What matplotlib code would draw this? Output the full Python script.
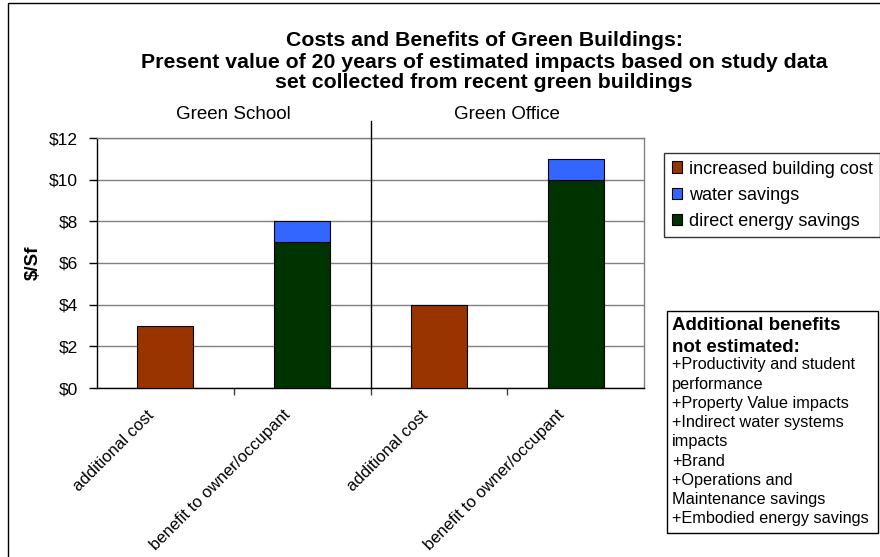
import matplotlib
matplotlib.use("Agg")
import matplotlib.pyplot as plt
import matplotlib.transforms as mtrans
from matplotlib.patches import Rectangle, Patch
from matplotlib.lines import Line2D

plt.rcParams['font.family'] = ['Liberation Sans', 'DejaVu Sans']

categories = ["additional cost", "benefit to owner/occupant",
              "additional cost", "benefit to owner/occupant"]
groups = ["Green School", "Green Office"]
building_cost = [3, 0, 4, 0]
energy_savings = [0, 7, 0, 10]
water_savings = [0, 1, 0, 1]
yticks = [0, 2, 4, 6, 8, 10, 12]
ytick_labels = ["$0", "$2", "$4", "$6", "$8", "$10", "$12"]
series_names = ["increased building cost", "water savings", "direct energy savings"]
notes = ["+Productivity and student", "performance", "+Property Value impacts",
         "+Indirect water systems", "impacts", "+Brand", "+Operations and",
         "Maintenance savings", "+Embodied energy savings"]

c_cost = "#993300"
c_water = "#3366FF"
c_energy = "#003300"

W, H = 880, 557
fig = plt.figure(figsize=(W / 100, H / 100), dpi=100)

# outer chart-area border
fig.add_artist(Rectangle((8 / W, -0.01), 1.0, 1 - 3 / H + 0.01, transform=fig.transFigure,
                         fill=False, edgecolor="black", linewidth=1.0))

left, right, top, bottom = 97, 644, 138, 388
ax = fig.add_axes([left / W, 1 - bottom / H, (right - left) / W, (bottom - top) / H])

x = list(range(len(categories)))
bw = 0.41
ax.bar(x, building_cost, bw, color=c_cost, edgecolor="black", linewidth=0.8, zorder=3)
ax.bar(x, energy_savings, bw, color=c_energy, edgecolor="black", linewidth=0.8, zorder=3)
ax.bar(x, water_savings, bw, bottom=energy_savings, color=c_water, edgecolor="black",
       linewidth=0.8, zorder=3)
for p in ax.patches:
    if p.get_height() == 0:
        p.set_visible(False)

ax.set_xlim(-0.5, len(categories) - 0.5)
ax.set_ylim(0, 12)
ax.set_yticks(yticks)
ax.set_yticklabels(ytick_labels, fontsize=12.5)
ax.yaxis.grid(True, color="#808080", linewidth=1.0, zorder=0)
ax.set_axisbelow(True)
ax.tick_params(axis="y", length=6, width=1, pad=8)
ax.set_xticks([xi + 0.5 for xi in x[:-1]], minor=False)
ax.set_xticklabels([])
ax.tick_params(axis="x", which="major", length=5, width=1, color="#404040")
ax.set_xticks(x, minor=True)
ax.set_xticklabels(categories, minor=True, rotation=45, ha="right",
                   rotation_mode="anchor", fontsize=12)
ax.tick_params(axis="x", which="minor", length=0, pad=14)
offset = mtrans.ScaledTranslation(-19 / 100, 0, fig.dpi_scale_trans)
for lab in ax.get_xticklabels(minor=True):
    lab.set_transform(lab.get_transform() + offset)
for s in ["top", "right"]:
    ax.spines[s].set_color("#808080")
    ax.spines[s].set_linewidth(1.0)
for s in ["left", "bottom"]:
    ax.spines[s].set_color("black")
    ax.spines[s].set_linewidth(1.0)

fig.text(33 / W, 1 - 263 / H, "$/Sf", rotation=90, fontsize=13.5, fontweight="bold",
         ha="center", va="center")

# separator between groups
ax.add_line(Line2D([1.5, 1.5], [0, 1.07], transform=ax.get_xaxis_transform(),
                   color="black", linewidth=1.0, clip_on=False, zorder=4))
for i, g in enumerate(groups):
    ax.text(0.5 + 2 * i, 1.095, g, transform=ax.get_xaxis_transform(),
            ha="center", va="center", fontsize=13.5)

tx = 484 / W
fig.text(tx, 1 - 41 / H, "Costs and Benefits of Green Buildings:", ha="center",
         va="center", fontsize=15.3, fontweight="bold")
fig.text(tx, 1 - 62 / H,
         "Present value of 20 years of estimated impacts based on study data",
         ha="center", va="center", fontsize=15.3, fontweight="bold")
fig.text(tx, 1 - 83 / H, "set collected from recent green buildings", ha="center",
         va="center", fontsize=15.3, fontweight="bold")

handles = [Patch(facecolor=c, edgecolor="black", linewidth=0.8)
           for c in (c_cost, c_water, c_energy)]
leg = fig.legend(handles, series_names, loc="upper left",
                 bbox_to_anchor=(664 / W, 1 - 153 / H), fontsize=13, frameon=True,
                 fancybox=False, edgecolor="black", handlelength=0.6, handleheight=0.6,
                 handletextpad=0.35, borderpad=0.42, labelspacing=0.5, borderaxespad=0)
leg.get_frame().set_linewidth(1.0)

# notes box
bx0, by0, bx1, by1 = 667, 311, 878, 533
fig.add_artist(Rectangle((bx0 / W, 1 - by1 / H), (bx1 - bx0) / W, (by1 - by0) / H,
                         transform=fig.transFigure, fill=False, edgecolor="black",
                         linewidth=1.0))
fig.text((bx0 + 5) / W, 1 - 325 / H, "Additional benefits", fontsize=13.5,
         fontweight="bold", va="center", ha="left")
fig.text((bx0 + 5) / W, 1 - 347 / H, "not estimated:", fontsize=13.5,
         fontweight="bold", va="center", ha="left")
for i, n in enumerate(notes):
    fig.text((bx0 + 5) / W, 1 - (365 + i * 19.2) / H, n, fontsize=11.7, va="center", ha="left")

fig.savefig("out.png", dpi=100)
